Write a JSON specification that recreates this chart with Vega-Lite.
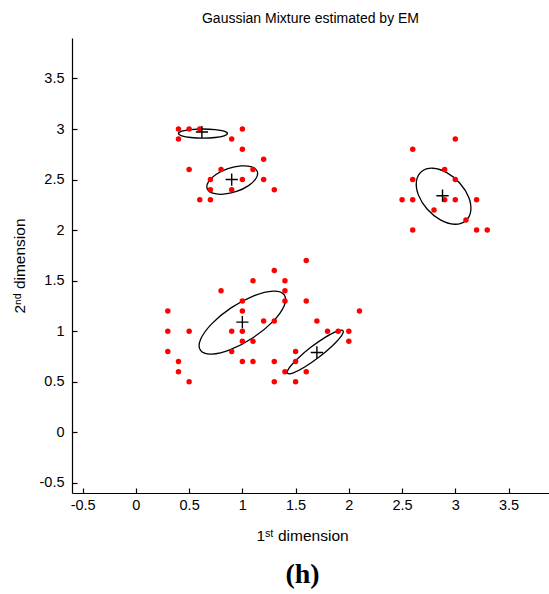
{
  "$schema": "https://vega.github.io/schema/vega-lite/v6.json",
  "width": 477,
  "height": 455,
  "autosize": "none",
  "padding": {"left": 72, "top": 38, "right": 0, "bottom": 101},
  "background": "white",
  "title": {"text": "Gaussian Mixture estimated by EM", "font": "Liberation Sans", "fontSize": 14, "fontWeight": "normal", "color": "black", "offset": 12, "anchor": "middle"},
  "config": {
    "view": {"stroke": null},
    "axis": {"domainColor": "black", "tickColor": "black", "labelColor": "black", "titleColor": "black", "grid": false, "labelFont": "Liberation Sans", "labelFontSize": 14.5, "titleFont": "Liberation Sans", "titleFontSize": 15.5, "titleFontWeight": "normal", "domainWidth": 1.2, "tickWidth": 1.2}
  },
  "resolve": {"axis": {"x": "independent", "y": "independent"}},
  "datasets": {
    "ellipses": [
      {"e": 1, "k": 0, "x": 0.86, "y": 2.955}, {"e": 1, "k": 1, "x": 0.829, "y": 2.978}, {"e": 1, "k": 2, "x": 0.745, "y": 2.994}, {"e": 1, "k": 3, "x": 0.63, "y": 3.0}, {"e": 1, "k": 4, "x": 0.515, "y": 2.994}, {"e": 1, "k": 5, "x": 0.431, "y": 2.978}, {"e": 1, "k": 6, "x": 0.40, "y": 2.955}, {"e": 1, "k": 7, "x": 0.431, "y": 2.933}, {"e": 1, "k": 8, "x": 0.515, "y": 2.916}, {"e": 1, "k": 9, "x": 0.63, "y": 2.91}, {"e": 1, "k": 10, "x": 0.745, "y": 2.916}, {"e": 1, "k": 11, "x": 0.829, "y": 2.933},
      {"e": 2, "k": 0, "x": 1.140, "y": 2.581}, {"e": 2, "k": 1, "x": 1.088, "y": 2.625}, {"e": 2, "k": 2, "x": 0.987, "y": 2.635}, {"e": 2, "k": 3, "x": 0.864, "y": 2.608}, {"e": 2, "k": 4, "x": 0.752, "y": 2.550}, {"e": 2, "k": 5, "x": 0.681, "y": 2.477}, {"e": 2, "k": 6, "x": 0.670, "y": 2.410}, {"e": 2, "k": 7, "x": 0.722, "y": 2.365}, {"e": 2, "k": 8, "x": 0.823, "y": 2.355}, {"e": 2, "k": 9, "x": 0.946, "y": 2.382}, {"e": 2, "k": 10, "x": 1.058, "y": 2.440}, {"e": 2, "k": 11, "x": 1.129, "y": 2.513},
      {"e": 3, "k": 0, "x": 1.393, "y": 1.360}, {"e": 3, "k": 1, "x": 1.289, "y": 1.397}, {"e": 3, "k": 2, "x": 1.107, "y": 1.350}, {"e": 3, "k": 3, "x": 0.897, "y": 1.233}, {"e": 3, "k": 4, "x": 0.714, "y": 1.075}, {"e": 3, "k": 5, "x": 0.608, "y": 0.920}, {"e": 3, "k": 6, "x": 0.607, "y": 0.810}, {"e": 3, "k": 7, "x": 0.711, "y": 0.773}, {"e": 3, "k": 8, "x": 0.893, "y": 0.820}, {"e": 3, "k": 9, "x": 1.103, "y": 0.938}, {"e": 3, "k": 10, "x": 1.286, "y": 1.095}, {"e": 3, "k": 11, "x": 1.392, "y": 1.250},
      {"e": 4, "k": 0, "x": 1.945, "y": 1.006}, {"e": 4, "k": 1, "x": 1.891, "y": 1.002}, {"e": 4, "k": 2, "x": 1.781, "y": 0.942}, {"e": 4, "k": 3, "x": 1.646, "y": 0.843}, {"e": 4, "k": 4, "x": 1.521, "y": 0.731}, {"e": 4, "k": 5, "x": 1.440, "y": 0.637}, {"e": 4, "k": 6, "x": 1.425, "y": 0.584}, {"e": 4, "k": 7, "x": 1.479, "y": 0.588}, {"e": 4, "k": 8, "x": 1.589, "y": 0.648}, {"e": 4, "k": 9, "x": 1.724, "y": 0.747}, {"e": 4, "k": 10, "x": 1.849, "y": 0.859}, {"e": 4, "k": 11, "x": 1.930, "y": 0.953},
      {"e": 5, "k": 0, "x": 3.096, "y": 2.090}, {"e": 5, "k": 1, "x": 3.145, "y": 2.187}, {"e": 5, "k": 2, "x": 3.126, "y": 2.324}, {"e": 5, "k": 3, "x": 3.043, "y": 2.464}, {"e": 5, "k": 4, "x": 2.920, "y": 2.569}, {"e": 5, "k": 5, "x": 2.789, "y": 2.612}, {"e": 5, "k": 6, "x": 2.684, "y": 2.580}, {"e": 5, "k": 7, "x": 2.635, "y": 2.483}, {"e": 5, "k": 8, "x": 2.654, "y": 2.346}, {"e": 5, "k": 9, "x": 2.737, "y": 2.206}, {"e": 5, "k": 10, "x": 2.860, "y": 2.101}, {"e": 5, "k": 11, "x": 2.992, "y": 2.058}
    ],
    "points": [
      {"x": 0.4, "y": 3.0}, {"x": 0.5, "y": 3.0}, {"x": 0.6, "y": 3.0}, {"x": 1.0, "y": 3.0}, {"x": 0.4, "y": 2.9}, {"x": 0.9, "y": 2.9}, {"x": 1.0, "y": 2.8}, {"x": 1.2, "y": 2.7}, {"x": 0.5, "y": 2.6}, {"x": 0.8, "y": 2.6}, {"x": 1.1, "y": 2.6}, {"x": 0.7, "y": 2.5}, {"x": 1.0, "y": 2.5}, {"x": 1.2, "y": 2.5}, {"x": 0.7, "y": 2.4}, {"x": 0.9, "y": 2.4}, {"x": 1.3, "y": 2.4}, {"x": 0.6, "y": 2.3}, {"x": 0.7, "y": 2.3},
      {"x": 3.0, "y": 2.9}, {"x": 2.6, "y": 2.8}, {"x": 2.9, "y": 2.6}, {"x": 2.6, "y": 2.5}, {"x": 3.0, "y": 2.5}, {"x": 2.5, "y": 2.3}, {"x": 2.6, "y": 2.3}, {"x": 2.9, "y": 2.3}, {"x": 3.0, "y": 2.3}, {"x": 3.2, "y": 2.3}, {"x": 2.8, "y": 2.2}, {"x": 3.1, "y": 2.1}, {"x": 2.6, "y": 2.0}, {"x": 3.2, "y": 2.0}, {"x": 3.3, "y": 2.0},
      {"x": 1.6, "y": 1.7}, {"x": 1.3, "y": 1.6}, {"x": 1.1, "y": 1.5}, {"x": 1.4, "y": 1.5}, {"x": 0.8, "y": 1.4}, {"x": 1.4, "y": 1.4}, {"x": 1.0, "y": 1.3}, {"x": 1.4, "y": 1.3}, {"x": 1.6, "y": 1.3}, {"x": 0.3, "y": 1.2}, {"x": 1.0, "y": 1.2}, {"x": 2.1, "y": 1.2}, {"x": 1.2, "y": 1.1}, {"x": 1.3, "y": 1.1}, {"x": 1.7, "y": 1.1}, {"x": 0.3, "y": 1.0}, {"x": 0.5, "y": 1.0}, {"x": 0.9, "y": 1.0}, {"x": 1.0, "y": 1.0}, {"x": 1.8, "y": 1.0}, {"x": 1.9, "y": 1.0}, {"x": 2.0, "y": 1.0}, {"x": 1.0, "y": 0.9}, {"x": 1.1, "y": 0.9}, {"x": 2.0, "y": 0.9}, {"x": 0.3, "y": 0.8}, {"x": 0.9, "y": 0.8}, {"x": 1.5, "y": 0.8}, {"x": 0.4, "y": 0.7}, {"x": 1.0, "y": 0.7}, {"x": 1.1, "y": 0.7}, {"x": 1.3, "y": 0.7}, {"x": 1.5, "y": 0.7}, {"x": 0.4, "y": 0.6}, {"x": 1.4, "y": 0.6}, {"x": 1.6, "y": 0.6}, {"x": 0.5, "y": 0.5}, {"x": 1.3, "y": 0.5}, {"x": 1.5, "y": 0.5}
    ],
    "centers": [
      {"x": 0.62, "y": 2.97}, {"x": 0.90, "y": 2.50}, {"x": 1.0, "y": 1.09}, {"x": 1.70, "y": 0.79}, {"x": 2.88, "y": 2.34}
    ]
  },
  "layer": [
    {
      "data": {"name": "ellipses"},
      "mark": {"type": "line", "interpolate": "cardinal-closed", "color": "black", "strokeWidth": 1.3},
      "encoding": {
        "x": {"field": "x", "type": "quantitative", "scale": {"domain": [-0.6, 3.88], "nice": false, "zero": false},
              "axis": {"orient": "bottom", "values": [-0.5, 0, 0.5, 1, 1.5, 2, 2.5, 3, 3.5], "labelExpr": "'' + datum.value", "ticks": false, "tickSize": 0, "labelPadding": 5, "title": "1ˢᵗ dimension", "titlePadding": 17, "titleX": 230}},
        "y": {"field": "y", "type": "quantitative", "scale": {"domain": [-0.6, 3.9], "nice": false, "zero": false},
              "axis": {"orient": "left", "values": [-0.5, 0, 0.5, 1, 1.5, 2, 2.5, 3, 3.5], "labelExpr": "'' + datum.value", "ticks": false, "tickSize": 0, "labelPadding": 8, "title": "2ⁿᵈ dimension", "titlePadding": 12}},
        "detail": {"field": "e"},
        "order": {"field": "k", "type": "quantitative"}
      }
    },
    {
      "data": {"name": "points"},
      "mark": {"type": "point", "shape": "circle", "filled": true, "color": "#ff0000", "opacity": 1, "size": 30},
      "encoding": {
        "x": {"field": "x", "type": "quantitative", "scale": {"domain": [-0.6, 3.88], "nice": false, "zero": false},
              "axis": {"orient": "bottom", "values": [-0.5, 0, 0.5, 1, 1.5, 2, 2.5, 3, 3.5], "offset": -5, "tickSize": 5, "domain": false, "labels": false, "title": null}},
        "y": {"field": "y", "type": "quantitative", "scale": {"domain": [-0.6, 3.9], "nice": false, "zero": false},
              "axis": {"orient": "left", "values": [-0.5, 0, 0.5, 1, 1.5, 2, 2.5, 3, 3.5], "offset": -5, "tickSize": 5, "domain": false, "labels": false, "title": null}}
      }
    },
    {
      "data": {"name": "centers"},
      "mark": {"type": "point", "shape": "M-1,0L1,0M0,-1L0,1", "filled": false, "color": "black", "strokeWidth": 1.4, "opacity": 1, "size": 150},
      "encoding": {
        "x": {"field": "x", "type": "quantitative", "scale": {"domain": [-0.6, 3.88], "nice": false, "zero": false},
              "axis": {"orient": "bottom", "labels": false, "ticks": false, "domain": false, "title": "(h)", "titleFont": "Liberation Serif", "titleFontWeight": "bold", "titleFontSize": 28, "titlePadding": 67, "titleX": 230}},
        "y": {"field": "y", "type": "quantitative", "scale": {"domain": [-0.6, 3.9], "nice": false, "zero": false}, "axis": null}
      }
    }
  ]
}
